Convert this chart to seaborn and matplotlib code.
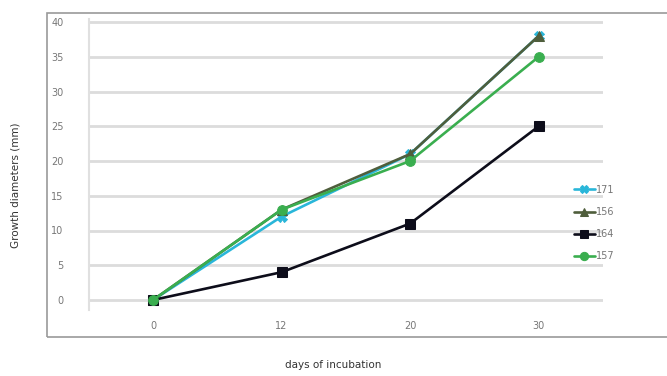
import pandas as pd
import numpy as np
import seaborn as sns
import matplotlib.pyplot as plt
from matplotlib.patches import Rectangle

# data
days = ['0', '12', '20', '30']
strains = ['171', '156', '164', '157']
s171 = [0, 12, 21, 38]
s156 = [0, 13, 21, 38]
s164 = [0, 4, 11, 25]
s157 = [0, 13, 20, 35]

colors = {'171': '#29b6d9', '156': '#4f5e3c', '164': '#0d0d1a', '157': '#3aae4f'}
markers = {'171': 'X', '156': '^', '164': 's', '157': 'o'}

rows = []
for name, vals in zip(strains, [s171, s156, s164, s157]):
    for i, v in enumerate(vals):
        rows.append({'pos': i, 'value': v, 'strain': name})
df = pd.DataFrame(rows)

sns.set_theme(style="white")
W, H = 667, 376
fig = plt.figure(figsize=(W / 100, H / 100), dpi=100)

# outer chart frame
fig.patches.append(Rectangle((47 / W, 1 - 337 / H), 1.2, (337 - 13) / H,
                             transform=fig.transFigure, fill=False,
                             edgecolor='#9a9a9a', linewidth=1.2))

# axes: x from 88.7 to 603 px, y from 22 (40.5) to 310 px
ymin, ymax = -1.44, 40.5
ppu = (300 - 22) / 40
top_px = 300 - ymax * ppu
bot_px = 300 - ymin * ppu
ax = fig.add_axes([88.7 / W, 1 - bot_px / H, (603 - 88.7) / W, (bot_px - top_px) / H])

sns.lineplot(data=df, x='pos', y='value', hue='strain', style='strain',
             hue_order=strains, style_order=strains, palette=colors,
             markers=markers, dashes=False, markersize=7, linewidth=1.9,
             markeredgecolor=None, ax=ax)

ax.set_xlim(-0.5, 3.5)
ax.set_ylim(ymin, ymax)
ax.set_yticks(np.arange(0, 41, 5))
ax.set_xticks(range(len(days)))
ax.set_xticklabels(days)
ax.yaxis.grid(True, color='#dcdcdc', linewidth=2)
ax.xaxis.grid(False)
ax.set_axisbelow(True)
for side in ['top', 'right', 'bottom']:
    ax.spines[side].set_visible(False)
ax.spines['left'].set_color('#e0e0e0')
ax.spines['left'].set_linewidth(1.5)
ax.tick_params(axis='y', colors='#777777', labelsize=7, length=0, pad=18)
ax.tick_params(axis='x', colors='#777777', labelsize=7, length=0, pad=8)
ax.set_xlabel('')
ax.set_ylabel('')

leg = ax.legend(loc='upper left', bbox_to_anchor=(565 / W, 1 - 176 / H),
                bbox_transform=fig.transFigure, frameon=False, fontsize=7,
                handlelength=2.2, handletextpad=0.1, labelspacing=1.25,
                labelcolor='#777777', markerscale=0.85)

fig.text(333 / W, 1 - 365 / H, 'days of incubation', ha='center', va='center',
         fontsize=7.5, color='#333333')
fig.text(15 / W, 1 - 185 / H, 'Growth diameters (mm)', ha='center', va='center',
         rotation=90, fontsize=7.5, color='#333333')

fig.savefig('out.png', dpi=100)
